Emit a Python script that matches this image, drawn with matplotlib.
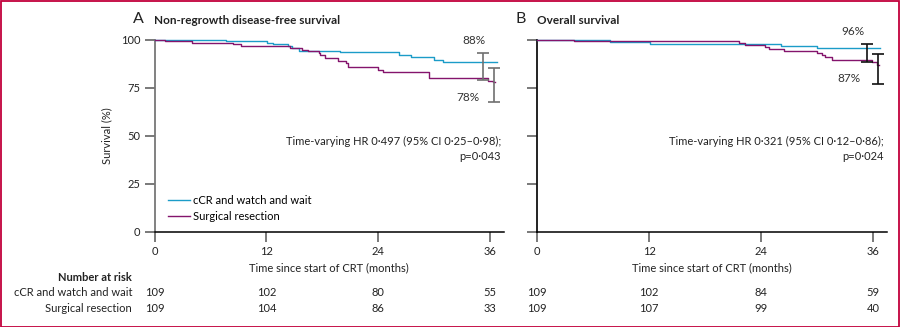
import numpy as np
import matplotlib
matplotlib.use("Agg")
import matplotlib.pyplot as plt
from matplotlib.patches import Rectangle

plt.rcParams['font.family'] = ['Lato', 'DejaVu Sans']
plt.rcParams['font.size'] = 8

cyan = '#1b9cc8'
purple = '#84146c'
frame = '#c2003c'

groups = ['cCR and watch and wait', 'Surgical resection']

# Kaplan-Meier step curves, months vs survival %
a_ww_t = [0, 7.7, 12.1, 12.7, 14.3, 14.8, 15.5, 19.9, 26.2, 27.5, 30.0, 31.0, 36.8]
a_ww_s = [100, 99.1, 98.3, 97.5, 96.6, 95.4, 94.2, 93.4, 92.0, 90.8, 89.5, 88.2, 88.2]
a_sr_t = [0, 1.1, 4.05, 8.4, 9.3, 14.5, 15.8, 16.5, 17.6, 17.8, 18.3, 19.7, 20.5,
          20.8, 24.0, 24.5, 29.5, 35.8, 36.3, 36.5]
a_sr_s = [100, 99.2, 98.2, 97.5, 96.6, 95.4, 94.5, 94.0, 92.8, 91.8, 90.2, 89.0, 87.6,
          85.9, 84.2, 83.0, 79.8, 78.6, 77.8, 77.8]

b_ww_t = [0, 7.8, 12.1, 26.1, 30.0, 36.8]
b_ww_s = [100, 98.6, 97.9, 96.8, 95.8, 95.8]
b_sr_t = [0, 4.0, 21.6, 22.3, 24.4, 24.9, 26.5, 30.0, 30.5, 30.9, 31.6, 35.9, 36.4, 36.6]
b_sr_s = [100, 99.2, 98.0, 97.0, 95.9, 95.0, 94.2, 92.8, 91.9, 90.7, 89.2, 88.2, 87.0, 87.0]

# 3-year estimates with 95% CI: (x position, estimate, low, high)
a_ci = [(35.3, 88, 79.0, 93.2), (36.4, 78, 67.4, 85.4)]
b_ci = [(35.4, 96, 88.2, 97.8), (36.5, 87, 76.7, 92.5)]

a_risk = [[109, 102, 80, 55], [109, 104, 86, 33]]
b_risk = [[109, 102, 84, 59], [109, 107, 99, 40]]
risk_times = [0, 12, 24, 36]

a_hr = 'Time-varying HR 0·497 (95% CI 0·25–0·98);\np=0·043'
b_hr = 'Time-varying HR 0·321 (95% CI 0·12–0·86);\np=0·024'

W, H = 900, 327
fig = plt.figure(figsize=(W / 100, H / 100), dpi=100)
fig.patches.append(Rectangle((0.5 / W, 0.5 / H), 1 - 1.5 / W, 1 - 1.5 / H,
                             transform=fig.transFigure, fill=False,
                             edgecolor=frame, linewidth=1.3))


def px_axes(x0, x1, ytop, ybot):
    return fig.add_axes([x0 / W, 1 - ybot / H, (x1 - x0) / W, (ybot - ytop) / H])


def panel(ax, letter, title, ww, sr, ci, risk, hr, yspine_col, ci_col, lbl_pos):
    ax.step(ww[0], ww[1], where='post', color=cyan, lw=1.0, clip_on=False,
            label=groups[0], zorder=3)
    ax.step(sr[0], sr[1], where='post', color=purple, lw=1.0, clip_on=False,
            label=groups[1], zorder=3)
    for x, est, lo, hi in ci:
        ax.errorbar([x], [est], yerr=[[est - lo], [hi - est]], fmt='none',
                    ecolor=ci_col, elinewidth=1.2, capsize=4.2, capthick=1.2,
                    clip_on=False, zorder=4)
    for (x, y), (_, est, _, _) in zip(lbl_pos, ci):
        ax.text(x, y, f'{est}%', ha='center', va='center', fontsize=8.5,
                color='#333333')
    ax.set_xlim(0, 37.5)
    ax.set_ylim(0, 100)
    ax.set_xticks(risk_times)
    ax.set_yticks([0, 25, 50, 75, 100])
    for s in ['top', 'right']:
        ax.spines[s].set_visible(False)
    ax.spines['left'].set_color(yspine_col)
    ax.spines['left'].set_linewidth(1.3)
    ax.spines['bottom'].set_linewidth(1.1)
    ax.tick_params(direction='out', length=7, width=1.1, color='#555555',
                   labelsize=8, pad=3, labelcolor='#222222')
    ax.set_xlabel('Time since start of CRT (months)', fontsize=8, labelpad=4,
                  color='#222222')
    ax.text(37.2, 50, hr, ha='right', va='top', fontsize=8, color='#222222',
            linespacing=1.45, transform=ax.transData)
    ax.text(-2.3, 110.5, letter, fontsize=11.5, ha='left', va='center',
            color='#222222')
    ax.text(-0.05, 110, title, fontsize=8.5, fontweight='bold', ha='left',
            va='center', color='#222222', clip_on=False)
    for row, y in zip(risk, [-31.5, -39.6]):
        for t, n in zip(risk_times, row):
            ax.text(t, y, str(n), ha='center', va='center', fontsize=8,
                    color='#222222')


axA = px_axes(154.5, 504, 39.5, 232)
axB = px_axes(537, 887, 39.5, 232)

panel(axA, 'A', 'Non-regrowth disease-free survival', (a_ww_t, a_ww_s),
      (a_sr_t, a_sr_s), a_ci, a_risk, a_hr, '#777777', '#707070',
      [(34.3, 99.7), (33.6, 70.1)])
panel(axB, 'B', 'Overall survival', (b_ww_t, b_ww_s), (b_sr_t, b_sr_s), b_ci,
      b_risk, b_hr, '#111111', '#111111', [(33.9, 104.4), (33.4, 79.8)])

axA.set_ylabel('Survival (%)', fontsize=8, labelpad=6, color='#222222')
axB.tick_params(axis='y', labelleft=False)

axA.legend(loc='lower left', bbox_to_anchor=(0.025, 0.03), frameon=False,
           fontsize=8, handlelength=2.0, handletextpad=0.3, labelspacing=0.4,
           borderaxespad=0)

# number-at-risk row labels
axA.text(-2.4, -23.5, 'Number at risk', ha='right', va='center', fontsize=8,
         fontweight='bold', color='#222222', clip_on=False)
for name, y in zip(groups, [-31.5, -39.6]):
    axA.text(-2.4, y, name, ha='right', va='center', fontsize=8,
             color='#222222', clip_on=False)

fig.savefig('out.png', dpi=100)
